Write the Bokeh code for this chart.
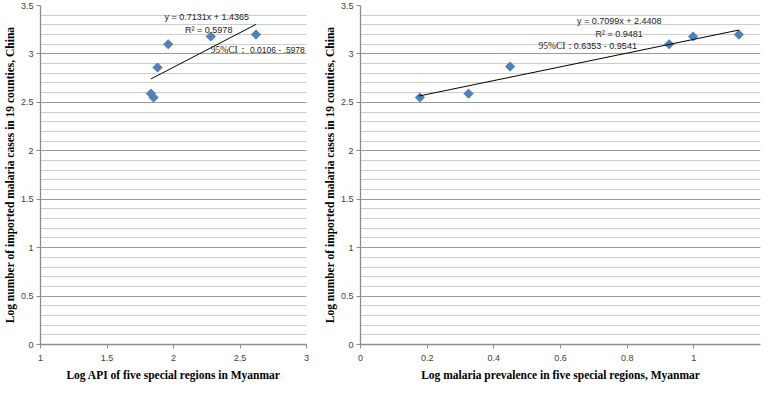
import math
from bokeh.plotting import figure
from bokeh.layouts import row
from bokeh.models import SingleIntervalTicker, CustomJSTickFormatter, Range1d
from bokeh.core.properties import value
from bokeh.embed import file_html
from bokeh.resources import INLINE

# ---- data ----
api_x = [1.83, 1.85, 1.88, 1.96, 2.28, 2.62]
api_y = [2.59, 2.55, 2.86, 3.10, 3.18, 3.20]
api_slope, api_intercept = 0.7131, 1.4365
api_trend_x = [1.83, 2.62]

prev_x = [0.178, 0.324, 0.449, 0.926, 0.998, 1.135]
prev_y = [2.55, 2.59, 2.87, 3.10, 3.18, 3.20]
prev_slope, prev_intercept = 0.7099, 2.4408
prev_trend_x = [0.175, 1.135]

y_title = "Log number of imported malaria cases in 19 counties, China"
x_title_left = "Log API of five special regions in Myanmar"
x_title_right = "Log malaria prevalence in five special regions, Myanmar"

left_eq = "y = 0.7131x + 1.4365"
left_r2 = "R\u00b2 = 0.5978"
left_ci_label = "95%CI\uff1a"
left_ci_vals = "0.0106 - .5978"

right_eq = "y = 0.7099x + 2.4408"
right_r2 = "R\u00b2 = 0.9481"
right_ci_label = "95%CI\uff1a"
right_ci_vals = "0.6353 - 0.9541"

MARKER = "#4F81BD"
AXIS = "#8C8C8C"
MAJOR_GRID = "#999999"
MINOR_GRID = "#CCCCCC"
SANS = "Liberation Sans"
SERIF = "Liberation Serif"

fmt_code = "return String(Number(tick.toFixed(2)));"
H = 384


def make_fig(width, x_start, x_end, x_interval, border_left, border_right, x_title):
    p = figure(width=width, height=H, output_backend="svg", toolbar_location=None,
               x_range=Range1d(x_start, x_end), y_range=Range1d(0, 3.5),
               min_border_left=border_left, min_border_right=border_right,
               min_border_top=5, min_border_bottom=40)
    p.outline_line_color = None
    p.background_fill_color = "white"
    p.border_fill_color = "white"
    p.xgrid.grid_line_color = None
    p.ygrid.grid_line_color = MAJOR_GRID
    p.ygrid.minor_grid_line_color = MINOR_GRID
    p.yaxis.ticker = SingleIntervalTicker(interval=0.5, num_minor_ticks=5)
    p.xaxis.ticker = SingleIntervalTicker(interval=x_interval, num_minor_ticks=0)
    for ax in (p.xaxis, p.yaxis):
        ax.formatter = CustomJSTickFormatter(code=fmt_code)
        ax.axis_line_color = AXIS
        ax.axis_line_width = 1.3
        ax.major_tick_line_color = AXIS
        ax.major_tick_in = 0
        ax.major_tick_out = 4
        ax.minor_tick_line_color = None
        ax.major_label_text_font = SANS
        ax.major_label_text_font_size = "9px"
        ax.major_label_text_color = "#404040"
        ax.axis_label_text_font = SERIF
        ax.axis_label_text_font_style = "bold"
        ax.axis_label_text_font_size = "11.5px"
        ax.axis_label_text_color = "black"
    p.yaxis.major_label_standoff = 3
    p.yaxis.axis_label_standoff = 2
    p.xaxis.major_label_standoff = 6
    p.xaxis.axis_label_standoff = 5
    p.yaxis.axis_label = y_title
    p.xaxis.axis_label = x_title
    return p


def add_text(p, x, y, txt, font, size, align):
    p.text([x], [y], text=[txt], text_font=value(font), text_font_size=size,
           text_align=align, text_baseline="middle", text_color="#222222")


def add_points(p, xs, ys):
    p.scatter(xs, ys, marker="square", size=6.5, angle=math.pi / 4,
              color=MARKER)


# ---- left panel ----
p1 = make_fig(320, 1, 3, 0.5, 35, 14, x_title_left)
add_points(p1, api_x, api_y)
p1.line(api_trend_x, [api_slope * x + api_intercept for x in api_trend_x],
        line_color="black", line_width=1)
add_text(p1, 2.25, 3.38, left_eq, SANS, "9px", "center")
add_text(p1, 2.265, 3.25, left_r2, SANS, "9px", "center")
add_text(p1, 2.28, 3.04, left_ci_label, SERIF, "9.5px", "left")
add_text(p1, 2.575, 3.04, left_ci_vals, SANS, "8.5px", "left")

# ---- right panel ----
p2 = make_fig(448, 0, 1.2, 0.2, 39, 8, x_title_right)
add_points(p2, prev_x, prev_y)
p2.line(prev_trend_x, [prev_slope * x + prev_intercept for x in prev_trend_x],
        line_color="black", line_width=1)
add_text(p2, 0.776, 3.34, right_eq, SANS, "9px", "center")
add_text(p2, 0.776, 3.21, right_r2, SANS, "9px", "center")
add_text(p2, 0.534, 3.08, right_ci_label, SERIF, "9.5px", "left")
add_text(p2, 0.64, 3.08, right_ci_vals, SANS, "9px", "left")

layout = row(p1, p2, spacing=0)
open("out.html", "w").write(file_html(layout, INLINE))
